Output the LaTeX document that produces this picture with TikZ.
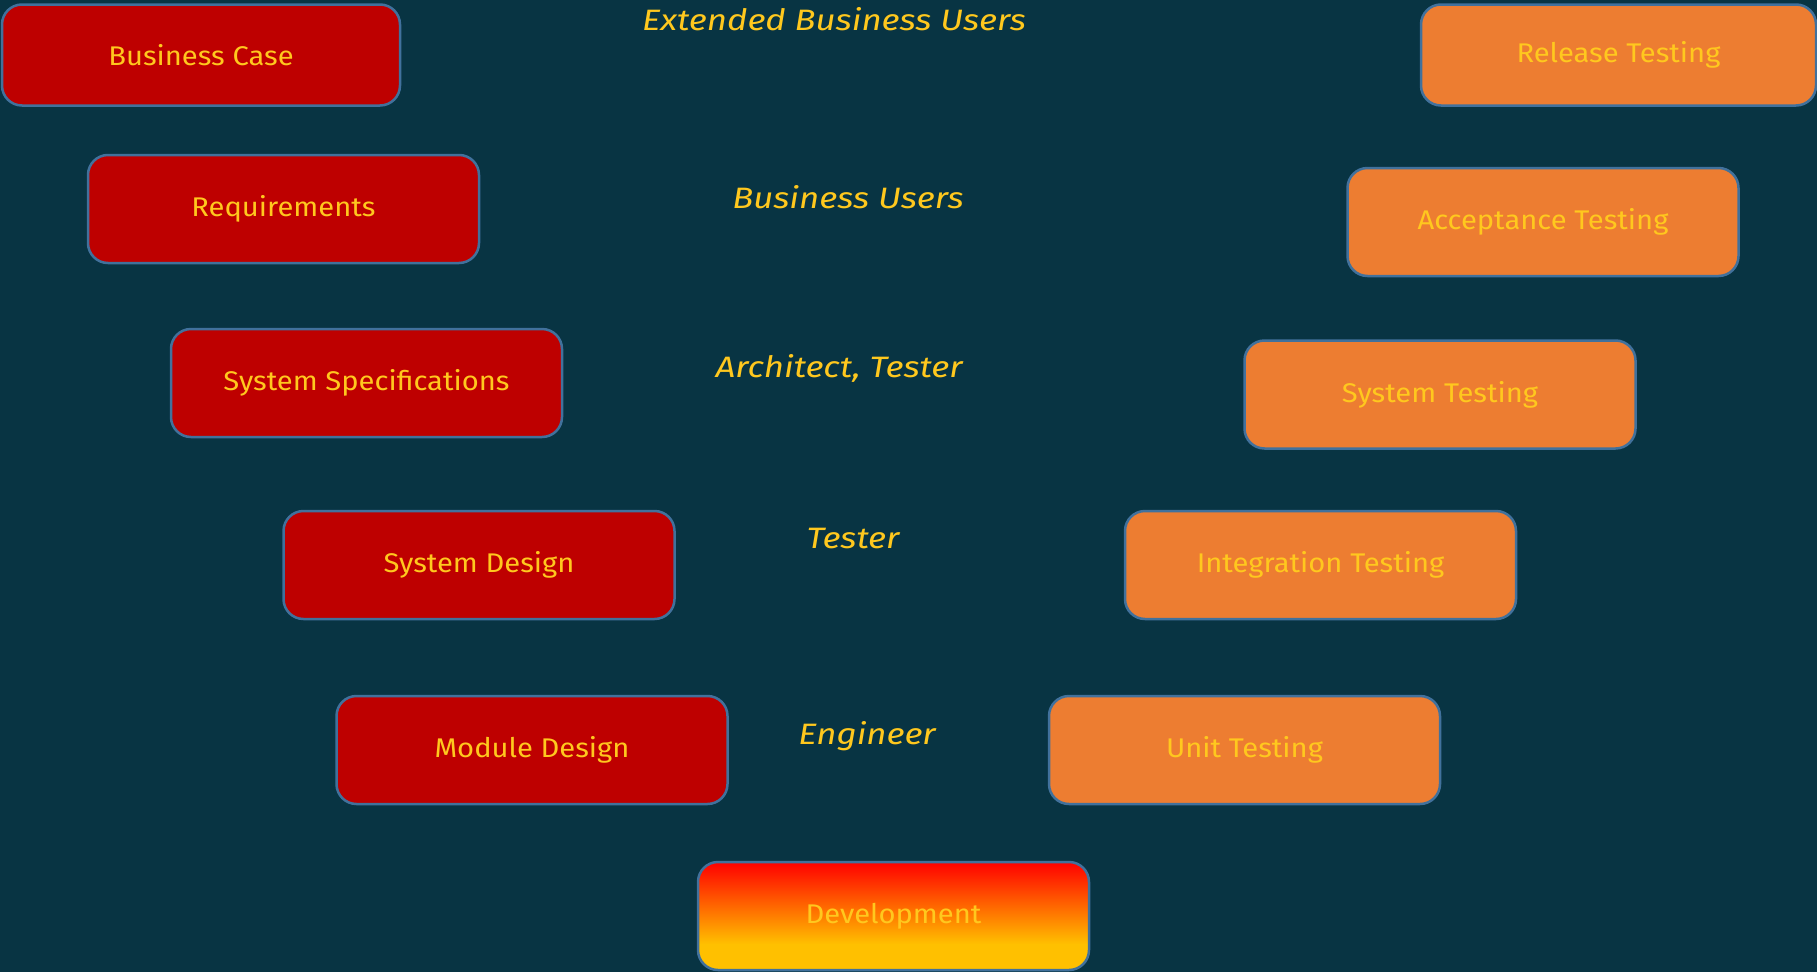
\documentclass[tikz,border=0pt]{standalone}
\usepackage{fontspec}
\setmainfont{Fira Sans}
\newfontfamily\phasefont{Fira Sans}[FakeStretch=1.08]
\newfontfamily\rolefont{Fira Sans}[FakeStretch=1.18]
\usepackage{tikz}
\usetikzlibrary{positioning}

\definecolor{vbg}{RGB}{8,52,67}
\definecolor{vred}{RGB}{190,0,0}
\definecolor{vorange}{RGB}{237,125,49}
\definecolor{vborder}{RGB}{65,113,156}
\definecolor{vtext}{RGB}{255,200,30}
\definecolor{vyellow}{RGB}{255,192,0}
\pgfdeclareverticalshading{devshade}{100bp}{color(0bp)=(vyellow); color(37bp)=(vyellow); color(75bp)=(red); color(100bp)=(red)}

\tikzset{
    phase/.style={draw=vborder, line width=2.5pt, rounded corners=20pt,
        minimum width=391pt, minimum height=108pt, inner sep=0pt,
        text=vtext, font=\phasefont\fontsize{27}{30}\selectfont},
    spec/.style={phase, fill=vred},
    test/.style={phase, fill=vorange},
    role/.style={text=vtext, font=\rolefont\fontsize{29.5}{33}\selectfont\itshape, inner sep=0pt}
}

\begin{document}
\begin{tikzpicture}[x=1pt, y=-1pt]
            \fill[vbg] (0, 0) rectangle (1817, 972);
            \useasboundingbox (0, 0) rectangle (1817, 972);
            \node[spec, minimum width=398pt, minimum height=101pt] (bcase) at (201, 55) {Business Case};
            \node[spec] (req) at (283.5, 209) {Requirements};
            \node[spec] (sysspec) at (366.5, 383) {System Specifications};
            \node[spec] (sysdes) at (479, 565) {System Design};
            \node[spec] (moddes) at (532, 750) {Module Design};
            \node[phase, shading=devshade] (dev) at (893.5, 916) {Development};
            \node[test] (unit) at (1244.5, 750) {Unit Testing};
            \node[test] (integ) at (1320.5, 565) {Integration Testing};
            \node[test] (systest) at (1440, 394.5) {System Testing};
            \node[test] (accept) at (1543, 222) {Acceptance Testing};
            \node[test, minimum width=395pt, minimum height=101pt] (release) at (1618.5, 55) {Release Testing};
            \node[role] (extusers) at (834, 19) {Extended Business Users};
            \node[role] (busers) at (848, 197) {Business Users};
            \node[role] (archtest) at (839, 368) {Architect, Tester};
            \node[role] (tester) at (853, 539) {Tester};
            \node[role] (engineer) at (867, 736) {Engineer};
        \end{tikzpicture}
\end{document}
